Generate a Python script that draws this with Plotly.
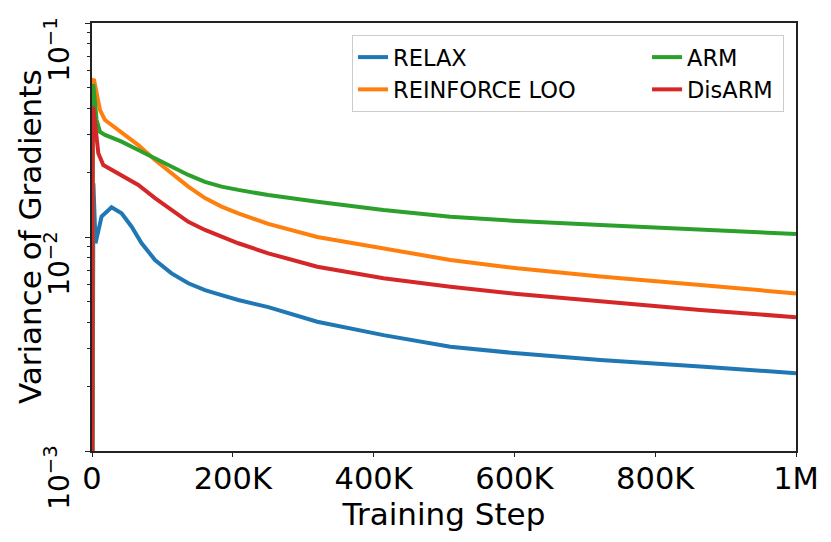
import plotly.graph_objects as go

# Training steps and gradient variance
relax_steps = [0, 2e3, 5e3, 13.6e3, 27.8e3, 42e3, 56.3e3, 70.5e3, 89.5e3, 113e3, 136.8e3,
               160.5e3, 184e3, 207.8e3, 250.4e3, 320e3, 414e3, 509e3, 604e3, 722e3, 864e3, 1e6]
relax_var = [1e-4, 0.0178, 0.00935, 0.01245, 0.01377, 0.01291, 0.01117, 0.00935, 0.00781,
             0.00676, 0.00608, 0.00565, 0.00535, 0.00508, 0.00470, 0.00402, 0.00348, 0.00307,
             0.00286, 0.00266, 0.00248, 0.00231]

loo_steps = [0, 1e3, 3e3, 11.4e3, 18.5e3, 42e3, 65.8e3, 89.5e3, 113e3, 136.8e3, 160.5e3,
             184e3, 207.8e3, 250.4e3, 320e3, 414e3, 509e3, 604e3, 722e3, 864e3, 1e6]
loo_var = [1e-4, 0.0542, 0.0540, 0.0392, 0.0352, 0.0310, 0.0269, 0.0229, 0.0199, 0.0172,
           0.0152, 0.01387, 0.01291, 0.01151, 0.0100, 0.00885, 0.00781, 0.00714, 0.00653,
           0.00597, 0.00545]

arm_steps = [0, 1e3, 2e3, 6.5e3, 11.4e3, 18.5e3, 42e3, 65.8e3, 89.5e3, 113e3, 136.8e3,
             160.5e3, 184e3, 207.8e3, 250.4e3, 320e3, 414e3, 509e3, 604e3, 722e3, 864e3, 1e6]
arm_var = [1e-4, 0.0513, 0.0510, 0.0352, 0.0310, 0.0300, 0.0279, 0.0255, 0.0233, 0.0213,
           0.0195, 0.0181, 0.0172, 0.0166, 0.0157, 0.0146, 0.01336, 0.01244, 0.01188,
           0.01138, 0.01079, 0.01033]

disarm_steps = [0, 1e3, 1.8e3, 4.3e3, 9e3, 16e3, 42e3, 65.8e3, 89.5e3, 113e3, 136.8e3,
                160.5e3, 184e3, 207.8e3, 250.4e3, 320e3, 414e3, 509e3, 604e3, 722e3, 864e3, 1e6]
disarm_var = [1e-4, 0.0406, 0.0400, 0.0340, 0.0246, 0.0217, 0.0195, 0.0175, 0.0152, 0.01337,
              0.01178, 0.01079, 0.01003, 0.00935, 0.00839, 0.00726, 0.00641, 0.00586,
              0.00542, 0.00499, 0.00456, 0.00422]

x_tickvals = [0, 200e3, 400e3, 600e3, 800e3, 1e6]
x_ticktext = ["0", "200K", "400K", "600K", "800K", "1M"]
y_tickvals = [1e-3, 1e-2, 1e-1]
y_tick_exps = [-3, -2, -1]
y_ticktext = ["10<sup>\u22123</sup>", "10<sup>\u22122</sup>", "10<sup>\u22121</sup>"]

FONT = "DejaVu Sans"

# name, x, y, colour, legend rank, legend entry width
series = [
    ("RELAX", relax_steps, relax_var, "#1f77b4", 1, 249),
    ("REINFORCE LOO", loo_steps, loo_var, "#ff7f0e", 3, 249),
    ("ARM", arm_steps, arm_var, "#2ca02c", 2, 91),
    ("DisARM", disarm_steps, disarm_var, "#d62728", 4, 91),
]

fig = go.Figure()
for name, steps, var, color, rank, lw in series:
    fig.add_trace(go.Scatter(x=steps, y=var, name=name, mode="lines",
                             line=dict(color=color, width=4),
                             legendrank=rank, legendwidth=lw))

minor_vals = [m * 10 ** e for e in (-3, -2) for m in range(2, 10)]

# y tick labels: rotated and hanging below their ticks like matplotlib does
for exp, txt in zip(y_tick_exps, y_ticktext):
    fig.add_annotation(x=-0.05, xref="paper", y=exp, yref="y", yshift=-26,
                       text=txt, textangle=-90, showarrow=False,
                       xanchor="center", yanchor="middle", font=dict(size=28))

fig.add_annotation(x=-0.088, xref="paper", y=0.5, yref="paper",
                   text="Variance of Gradients", textangle=-90, showarrow=False,
                   xanchor="center", yanchor="middle", font=dict(size=31))

fig.update_layout(
    width=831, height=542,
    # page body adds ~8px offset, margins compensate for it
    margin=dict(l=84, r=43, t=15, b=99),
    plot_bgcolor="white", paper_bgcolor="white",
    font=dict(family=FONT, color="black"),
    showlegend=True,
    legend=dict(
        orientation="h", x=0.983, y=0.972, xanchor="right", yanchor="top",
        font=dict(size=22.5, family=FONT),
        bgcolor="white", bordercolor="#cccccc", borderwidth=1,
    ),
    xaxis=dict(
        range=[0, 1e6], tickvals=x_tickvals, ticktext=x_ticktext,
        ticks="outside", ticklen=4, tickcolor="#222", tickfont=dict(size=30.5),
        ticklabelstandoff=-4, automargin=False,
        showline=True, linecolor="#222", linewidth=1.5, mirror=True,
        showgrid=False, zeroline=False,
        title=dict(text="Training Step", font=dict(size=31), standoff=6),
    ),
    yaxis=dict(
        type="log", range=[-3, -0.999999], tickvals=y_tickvals, showticklabels=False,
        ticks="outside", ticklen=5, tickcolor="#222", automargin=False,
        minor=dict(tickvals=minor_vals, ticks="outside", ticklen=3, tickcolor="#222", showgrid=False),
        showline=True, linecolor="#222", linewidth=1.5, mirror=True,
        showgrid=False, zeroline=False,
    ),
)

fig.write_html("out.html")
